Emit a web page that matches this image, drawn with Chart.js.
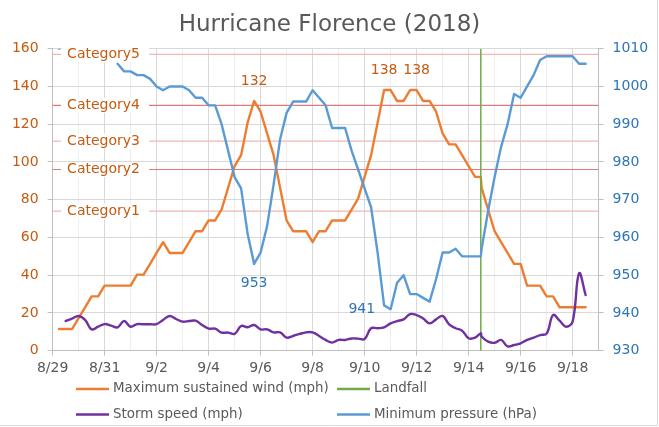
<!DOCTYPE html>
<html><head><meta charset="utf-8">
<script src="https://cdn.jsdelivr.net/npm/chart.js@4/dist/chart.umd.min.js"></script>
<style>
html,body{margin:0;padding:0;background:#fff;}
canvas{display:block;}
</style></head><body>
<canvas id="c" width="659" height="427"></canvas>
<script>
// ---- data (6-hourly, UTC) ----
const times = [
 '8/29 06:00','8/29 12:00','8/29 18:00',
 '8/30 00:00','8/30 06:00','8/30 12:00','8/30 18:00',
 '8/31 00:00','8/31 06:00','8/31 12:00','8/31 18:00',
 '9/1 00:00','9/1 06:00','9/1 12:00','9/1 18:00',
 '9/2 00:00','9/2 06:00','9/2 12:00','9/2 18:00',
 '9/3 00:00','9/3 06:00','9/3 12:00','9/3 18:00',
 '9/4 00:00','9/4 06:00','9/4 12:00','9/4 18:00',
 '9/5 00:00','9/5 06:00','9/5 12:00','9/5 18:00',
 '9/6 00:00','9/6 06:00','9/6 12:00','9/6 18:00',
 '9/7 00:00','9/7 06:00','9/7 12:00','9/7 18:00',
 '9/8 00:00','9/8 06:00','9/8 12:00','9/8 18:00',
 '9/9 00:00','9/9 06:00','9/9 12:00','9/9 18:00',
 '9/10 00:00','9/10 06:00','9/10 12:00','9/10 18:00',
 '9/11 00:00','9/11 06:00','9/11 12:00','9/11 18:00',
 '9/12 00:00','9/12 06:00','9/12 12:00','9/12 18:00',
 '9/13 00:00','9/13 06:00','9/13 12:00','9/13 18:00',
 '9/14 00:00','9/14 06:00','9/14 11:15','9/14 12:00','9/14 18:00',
 '9/15 00:00','9/15 06:00','9/15 12:00','9/15 18:00',
 '9/16 00:00','9/16 06:00','9/16 12:00','9/16 18:00',
 '9/17 00:00','9/17 06:00','9/17 12:00','9/17 18:00',
 '9/18 00:00','9/18 06:00','9/18 12:00'
];
const windMph = [
 11.5,11.5,11.5,
 17.3,23.0,28.8,28.8,
 34.5,34.5,34.5,34.5,
 34.5,40.3,40.3,46.0,
 51.8,57.5,51.8,51.8,
 51.8,57.5,63.3,63.3,
 69.0,69.0,74.8,86.3,
 97.8,103.6,120.8,132.3,
 126.6,115.1,103.6,86.3,
 69.0,63.3,63.3,63.3,
 57.5,63.3,63.3,69.0,
 69.0,69.0,74.8,80.6,
 92.1,103.6,120.8,138.1,
 138.1,132.3,132.3,138.1,
 138.1,132.3,132.3,126.6,
 115.1,109.3,109.3,103.6,
 97.8,92.1,92.1,86.3,74.8,
 63.3,57.5,51.8,46.0,
 46.0,34.5,34.5,34.5,
 28.8,28.8,23.0,23.0,
 23.0,23.0,23.0
];
const stormSpeedMph = [
 null,15.7,17.0,
 18.4,16.3,11.3,12.7,
 14.1,13.3,12.4,15.7,
 12.7,14.1,14.0,14.0,
 14.1,16.3,18.4,16.8,
 15.4,15.7,15.9,13.6,
 11.7,11.7,9.6,9.6,
 8.9,13.1,12.4,13.6,
 11.3,11.3,9.7,9.7,
 6.9,7.8,8.9,9.7,
 9.7,7.8,5.7,4.3,
 5.7,5.7,6.5,6.4,
 6.2,11.9,11.9,12.4,
 14.5,15.7,16.6,19.4,
 18.9,17.1,14.5,16.6,
 18.4,14.0,11.9,10.6,
 6.6,6.9,9.2,7.5,4.8,
 4.2,5.7,2.3,3.0,
 3.9,5.7,6.9,8.3,
 9.0,18.9,15.9,12.7,
 15.4,41.0,29.5
];
const pressureHpa = [
 1010,1011,null,
 null,null,null,null,
 null,null,1006,1004,
 1004,1003,1003,1002,
 1000,999,1000,1000,
 1000,999,997,997,
 995,995,990,983,
 976,973,961,953,
 956,963,974,986,
 993,996,996,996,
 999,997,995,989,
 989,989,983,978,
 973,968,956,942,
 941,948,950,945,
 945,944,943,949,
 956,956,957,955,
 955,955,955,957,967,
 976,984,990,998,
 997,1000,1003,1007,
 1008,1008,1008,1008,
 1008,1006,1006
];
const landfallTime = '9/14 11:15';
const dateTickLabels = ['8/29','8/31','9/2','9/4','9/6','9/8','9/10','9/12','9/14','9/16','9/18'];
const categoryNames = ['Category1','Category2','Category3','Category4','Category5'];
const categoryThresholdsMph = [74, 96, 111, 130, 157];
const windLabelTimes = ['9/5 18:00','9/10 18:00','9/12 00:00'];
const pressureLabelTimes = ['9/5 18:00','9/11 00:00'];

// day offset from 8/29 00:00
function dayOf(s){
  const [md, hm] = s.split(' ');
  const [m, d] = md.split('/').map(Number);
  const [h, mi] = hm.split(':').map(Number);
  const base = m === 8 ? d - 29 : d + 2;
  return base + (h + mi/60)/24;
}
const pts = arr => times.map((t,i)=>({x:dayOf(t), y:arr[i]}));

const FONT = 'DejaVu Sans';
Chart.defaults.font.family = FONT;
Chart.defaults.font.size = 14;

const COL = {wind:'#ED7D31', speed:'#7030A0', pres:'#5B9BD5', land:'#70AD47',
  windTxt:'#C55A11', presTxt:'#2E75B6', gray:'#595959'};

const plotBox = {left:52.6, right:598.6, top:48.7, bottom:350.7};

const categoryPlugin = {
  id:'cats',
  beforeDatasetsDraw(chart){
    const {ctx, chartArea:{left,right}} = chart;
    const ys = chart.scales.y;
    ctx.save();
    categoryThresholdsMph.forEach((v,i)=>{
      const y = ys.getPixelForValue(v);
      ctx.strokeStyle = (i % 2 === 1) ? '#E07A7A' : '#F2B6B6';
      ctx.lineWidth = 1.2;
      ctx.beginPath(); ctx.moveTo(left, y); ctx.lineTo(right, y); ctx.stroke();
      ctx.fillStyle = '#fff';
      ctx.fillRect(left + 8.5, y - 7.5, 88, 15);
      ctx.fillStyle = COL.windTxt;
      ctx.font = '14px "' + FONT + '"';
      ctx.textBaseline = 'middle'; ctx.textAlign = 'left';
      ctx.fillText(categoryNames[i], left + 14.5, y);
    });
    ctx.restore();
  }
};

const labelPlugin = {
  id:'vlabels',
  afterDatasetsDraw(chart){
    const {ctx} = chart;
    const xs = chart.scales.x, ys = chart.scales.y, y2 = chart.scales.y2;
    ctx.save();
    ctx.font = '14px "' + FONT + '"';
    ctx.textBaseline = 'middle';
    windLabelTimes.forEach(t=>{
      const i = times.indexOf(t);
      const px = xs.getPixelForValue(dayOf(t)), py = ys.getPixelForValue(windMph[i]);
      ctx.fillStyle = COL.windTxt; ctx.textAlign = 'center';
      ctx.fillText(String(Math.round(windMph[i])), px, py - 20);
    });
    pressureLabelTimes.forEach((t,k)=>{
      const i = times.indexOf(t);
      const px = xs.getPixelForValue(dayOf(t)), py = y2.getPixelForValue(pressureHpa[i]);
      ctx.fillStyle = COL.presTxt;
      if (k === 0){ ctx.textAlign='center'; ctx.fillText(String(pressureHpa[i]), px, py + 19.5); }
      else { ctx.textAlign='right'; ctx.fillText(String(pressureHpa[i]), px - 15.5, py); }
    });
    ctx.restore();
  }
};

const legendPlugin = {
  id:'legend2',
  afterDraw(chart){
    const {ctx} = chart;
    const ds = chart.data.datasets;
    const cells = [
      {d:0, x:76, y:389}, {d:1, x:337, y:389},
      {d:2, x:76, y:414.5}, {d:3, x:337, y:414.5}
    ];
    ctx.save();
    ctx.font = '13.4px "' + FONT + '"';
    ctx.textBaseline = 'middle'; ctx.textAlign = 'left';
    cells.forEach(c=>{
      const d = ds[c.d];
      ctx.strokeStyle = d.borderColor; ctx.lineWidth = 2.5; ctx.lineCap='butt';
      ctx.beginPath(); ctx.moveTo(c.x, c.y); ctx.lineTo(c.x + 33, c.y); ctx.stroke();
      ctx.fillStyle = COL.gray;
      ctx.fillText(d.label, c.x + 37, c.y);
    });
    // chart border (right / bottom)
    ctx.strokeStyle = '#d9d9d9'; ctx.lineWidth = 1;
    ctx.beginPath(); ctx.moveTo(657.5, 0); ctx.lineTo(657.5, 425.5); ctx.lineTo(0, 425.5); ctx.stroke();
    ctx.restore();
  }
};

new Chart(document.getElementById('c'), {
  type:'line',
  data:{
    datasets:[
      {label:'Maximum sustained wind (mph)', data:pts(windMph), yAxisID:'y',
       borderColor:COL.wind, borderWidth:2.4, pointRadius:0, tension:0, order:3,
       borderJoinStyle:'round', borderCapStyle:'round'},
      {label:'Landfall', data:[{x:dayOf(landfallTime), y:0},{x:dayOf(landfallTime), y:160}], yAxisID:'y',
       borderColor:COL.land, borderWidth:1.5, pointRadius:0, order:2},
      {label:'Storm speed (mph)', data:pts(stormSpeedMph), yAxisID:'y',
       borderColor:COL.speed, borderWidth:2.4, pointRadius:0, tension:0.4, order:1,
       borderJoinStyle:'round', borderCapStyle:'round'},
      {label:'Minimum pressure (hPa)', data:pts(pressureHpa), yAxisID:'y2',
       borderColor:COL.pres, borderWidth:2.4, pointRadius:0, tension:0, order:0,
       borderJoinStyle:'round', borderCapStyle:'round'}
    ]
  },
  options:{
    responsive:false, animation:false, devicePixelRatio:1,
    spanGaps:false,
    layout:{padding:0},
    plugins:{
      legend:{display:false}, tooltip:{enabled:false},
      title:{display:true, text:'Hurricane Florence (2018)', color:COL.gray,
        font:{size:23, weight:'normal', family:FONT, lineHeight:1.2},
        padding:{top:11, bottom:10.1}}
    },
    scales:{
      x:{type:'linear', min:0, max:21,
        afterFit(s){ s.height = 427 - plotBox.bottom; },
        ticks:{stepSize:1, autoSkip:false, maxRotation:0, color:COL.gray, padding:4,
          font:{size:14},
          callback:(v)=> (v % 2 === 0 && dateTickLabels[v/2] !== undefined) ? dateTickLabels[v/2] : ''},
        grid:{color:(c)=> (c.tick && c.tick.value % 2 === 0) ? '#d9d9d9' : '#eeeeee',
          tickColor:(c)=> (c.tick && c.tick.value % 2 === 0) ? '#bfbfbf' : 'rgba(0,0,0,0)',
          tickLength:5, lineWidth:1},
        border:{color:'#bfbfbf', width:1}
      },
      y:{position:'left', min:0, max:160,
        afterFit(s){ s.width = plotBox.left; },
        ticks:{stepSize:20, color:COL.windTxt, padding:9, font:{size:14},
          callback:(v)=> String(v)},
        grid:{color:'#d9d9d9', tickColor:'#bfbfbf', tickLength:5, lineWidth:1},
        border:{color:'#bfbfbf', width:1}
      },
      y2:{position:'right', min:930, max:1010,
        afterFit(s){ s.width = 659 - plotBox.right; },
        ticks:{stepSize:10, color:COL.presTxt, padding:9, font:{size:14},
          callback:(v)=> String(v)},
        grid:{drawOnChartArea:false, tickColor:'#bfbfbf', tickLength:5},
        border:{color:'#bfbfbf', width:1}
      }
    }
  },
  plugins:[categoryPlugin, labelPlugin, legendPlugin]
});
</script>
</body></html>
